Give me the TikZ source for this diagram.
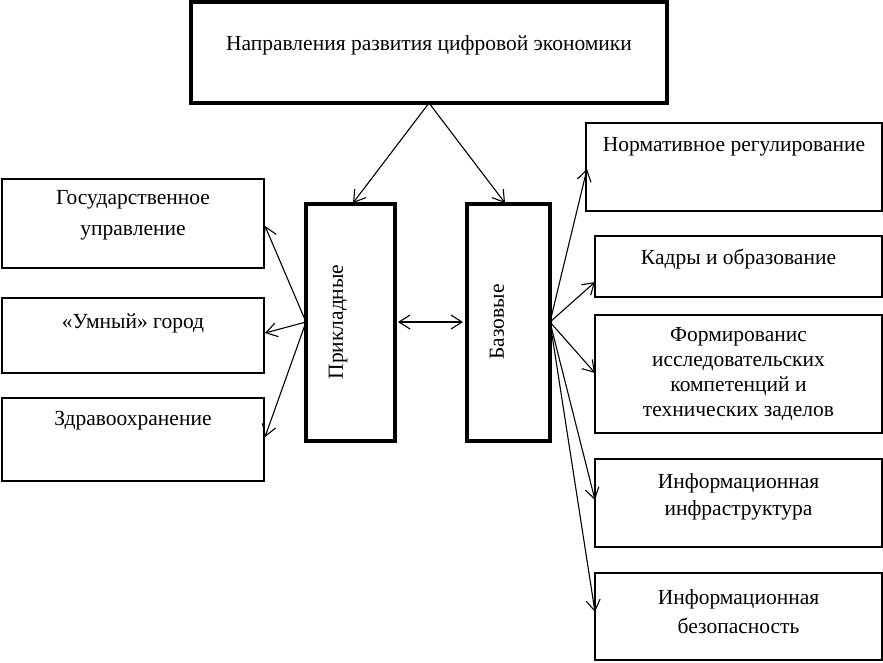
\documentclass[tikz,border=0pt]{standalone}
\usepackage{fontspec}
\setmainfont{Liberation Serif}
\usetikzlibrary{arrows.meta}
\begin{document}
\begin{tikzpicture}[x=1pt,y=-1pt,
  thinbox/.style={draw, line width=1.3pt, inner sep=0pt},
  thickbox/.style={draw, line width=4pt, inner sep=0pt},
  lbl/.style={font=\fontsize{21.5}{26}\selectfont, align=center, inner sep=0pt},
  conn/.style={line width=1.1pt, -{Straight Barb[length=11pt,width=14pt,line width=1.1pt]}},
  conn2/.style={line width=1.1pt, {Straight Barb[length=11pt,width=14pt,line width=1.1pt]}-{Straight Barb[length=11pt,width=14pt,line width=1.1pt]}}]
\useasboundingbox (0,0) rectangle (883,662);
\fill[white] (0,0) rectangle (883,662);
% top
\node[thickbox, minimum width=476, minimum height=101] (top) at (429,52.5) {};
\node[lbl] (toptxt) at (429,45) {Направления развития цифровой экономики};
% middle
\node[thickbox, minimum width=89, minimum height=237] (pr) at (350.5,322.5) {};
\node[lbl, rotate=90] (prtxt) at (338,322) {Прикладные};
\node[thickbox, minimum width=83, minimum height=237] (bz) at (508.5,322.5) {};
\node[lbl, rotate=90] (bztxt) at (497,322) {Базовые};
% left
\node[thinbox, minimum width=262, minimum height=89] (l1) at (133,223.5) {};
\node[lbl, font=\fontsize{21.5}{31}\selectfont] (l1t) at (133,215) {Государственное\\управление};
\node[thinbox, minimum width=262, minimum height=75] (l2) at (133,335.5) {};
\node[lbl] (l2t) at (133,323) {«Умный» город};
\node[thinbox, minimum width=262, minimum height=83] (l3) at (133,439.5) {};
\node[lbl] (l3t) at (133,421) {Здравоохранение};
% right
\node[thinbox, minimum width=296, minimum height=88] (r1) at (734,167) {};
\node[lbl] (r1t) at (734,147) {Нормативное регулирование};
\node[thinbox, minimum width=287, minimum height=61] (r2) at (738.5,266.5) {};
\node[lbl] (r2t) at (738.5,259) {Кадры и образование};
\node[thinbox, minimum width=287, minimum height=118] (r3) at (738.5,374) {};
\node[lbl, font=\fontsize{21.5}{25.3}\selectfont] (r3t) at (738.5,374) {Формированис\\исследовательских\\компетенций и\\технических заделов};
\node[thinbox, minimum width=287, minimum height=88] (r4) at (738.5,503) {};
\node[lbl, font=\fontsize{21.5}{27}\selectfont] (r4t) at (738.5,496.5) {Информационная\\инфраструктура};
\node[thinbox, minimum width=287, minimum height=87] (r5) at (738.5,616.5) {};
\node[lbl, font=\fontsize{21.5}{29}\selectfont] (r5t) at (738.5,611.5) {Информационная\\безопасность};
% coordinates
\coordinate (apex) at (429,103);
\coordinate (prin) at (353,203);
\coordinate (bzin) at (505,203);
\coordinate (prl) at (306,322);
\coordinate (bzr) at (550,322);
\coordinate (prr) at (398,322);
\coordinate (bzl) at (463,322);
\coordinate (l1e) at (265,226);
\coordinate (l2e) at (265,333);
\coordinate (l3e) at (265,437);
\coordinate (r1e) at (587,169);
\coordinate (r2e) at (595,282);
\coordinate (r3e) at (595,373);
\coordinate (r4e) at (595,500);
\coordinate (r5e) at (595,612);
% connectors
\draw[conn] (apex) -- (prin);
\draw[conn] (apex) -- (bzin);
\draw[conn2] (prr) -- (bzl);
\draw[conn] (prl) -- (l1e);
\draw[conn] (prl) -- (l2e);
\draw[conn] (prl) -- (l3e);
\draw[conn] (bzr) -- (r1e);
\draw[conn] (bzr) -- (r2e);
\draw[conn] (bzr) -- (r3e);
\draw[conn] (bzr) -- (r4e);
\draw[conn] (bzr) -- (r5e);
\end{tikzpicture}
\end{document}
